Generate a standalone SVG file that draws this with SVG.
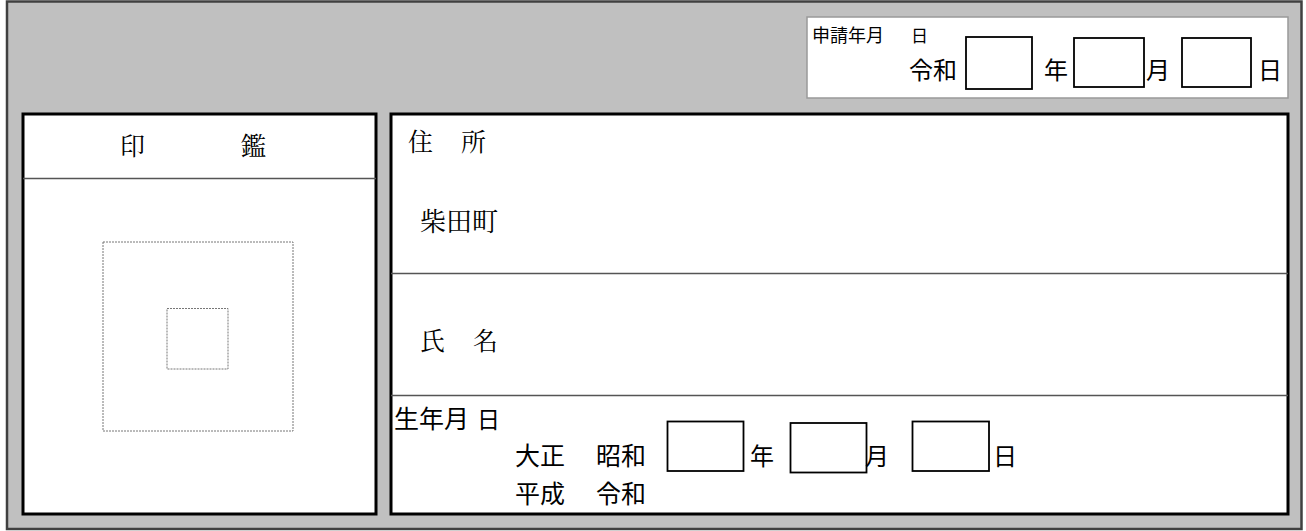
<svg xmlns="http://www.w3.org/2000/svg" width="1306" height="531" viewBox="0 0 1306 531">
<style>
.frame{fill:#fff;stroke:#000;stroke-width:3}
.div{stroke:#555;stroke-width:1.5;fill:none}
.box{fill:#fff;stroke:#000;stroke-width:1.8}
.dash{fill:none;stroke:#777;stroke-width:1;stroke-dasharray:2 1}
.g{font-family:"Noto Sans CJK JP","Noto Sans CJK SC",sans-serif;fill:#000}
.m{font-family:"Noto Serif CJK JP","Noto Sans CJK JP",serif;fill:#000}
</style>
<rect x="7" y="1.5" width="1294.5" height="527.5" fill="#c0c0c0" stroke="#404040" stroke-width="2.5"/>
<g id="application-date">
<rect x="807" y="17" width="481" height="81" fill="#fff" stroke="#999" stroke-width="1.5"/>
<text class="g" x="812" y="42" font-size="18">申請年月<tspan x="911" font-size="17">日</tspan></text>
<text class="g" x="909" y="79" font-size="24">令和</text>
<rect class="box" x="966" y="37" width="66" height="52"/>
<text class="g" x="1044" y="79" font-size="24">年</text>
<rect class="box" x="1074" y="38" width="70" height="49"/>
<text class="g" x="1146" y="79" font-size="24">月</text>
<rect class="box" x="1182" y="38" width="69" height="49"/>
<text class="g" x="1258" y="79" font-size="24">日</text>
</g>
<g id="seal">
<rect class="frame" x="23" y="114" width="353" height="400"/>
<line class="div" x1="23" y1="178.5" x2="376" y2="178.5"/>
<text class="m" x="120" y="155" font-size="25">印</text>
<text class="m" x="241" y="155" font-size="25">鑑</text>
<rect class="dash" x="103" y="242" width="190" height="189"/>
<rect class="dash" x="167" y="308.5" width="61" height="60.5"/>
</g>
<g id="applicant">
<rect class="frame" x="391" y="114" width="897" height="400"/>
<line class="div" x1="391" y1="273.5" x2="1288" y2="273.5"/>
<line class="div" x1="391" y1="395.5" x2="1288" y2="395.5"/>
</g>
<g id="address">
<text class="m" x="408" y="151" font-size="25">住</text>
<text class="m" x="461" y="151" font-size="25">所</text>
<text class="m" x="420" y="231" font-size="26">柴田町</text>
</g>
<g id="name">
<text class="m" x="420" y="350" font-size="25">氏</text>
<text class="m" x="473" y="350" font-size="25">名</text>
</g>
<g id="birthdate">
<text class="g" x="394" y="428" font-size="25">生年月<tspan x="477" font-size="23">日</tspan></text>
<text class="g" x="515" y="465" font-size="25">大正</text>
<text class="g" x="596" y="465" font-size="25">昭和</text>
<text class="g" x="515" y="503" font-size="25">平成</text>
<text class="g" x="596" y="503" font-size="25">令和</text>
<rect class="box" x="667.5" y="421.5" width="76" height="49.5"/>
<text class="g" x="750" y="465" font-size="24">年</text>
<rect class="box" x="790.5" y="423" width="76" height="49.5"/>
<text class="g" x="865" y="465" font-size="24">月</text>
<rect class="box" x="912.5" y="421.5" width="76.5" height="49.5"/>
<text class="g" x="993" y="465" font-size="24">日</text>
</g>
<g id="connectors"/>
</svg>
